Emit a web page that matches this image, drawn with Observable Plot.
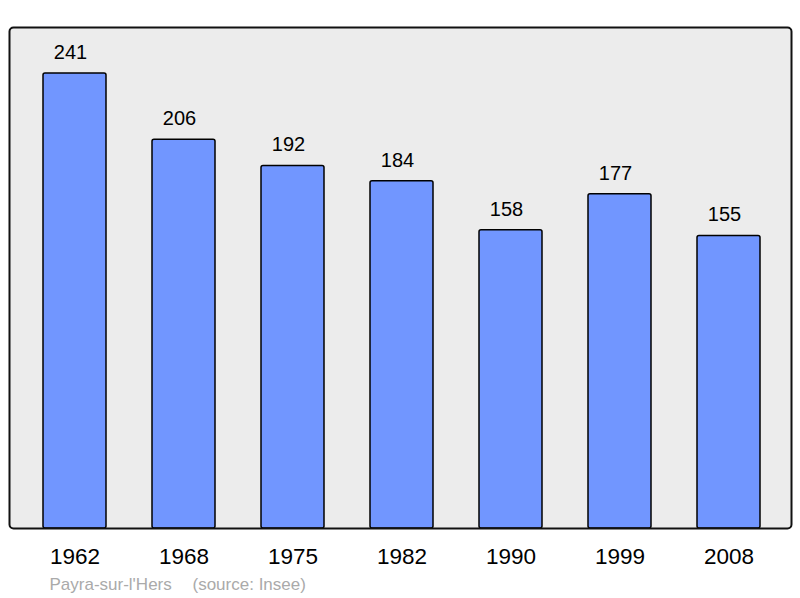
<!DOCTYPE html>
<html>
<head>
<meta charset="utf-8">
<script src="https://cdn.jsdelivr.net/npm/d3@7"></script>
<script src="https://cdn.jsdelivr.net/npm/@observablehq/plot@0.6"></script>
<style>
  html, body { margin: 0; padding: 0; background: #fff; }
  svg { display: block; font-family: "Liberation Sans", Arial, sans-serif; }
</style>
</head>
<body>
<div id="chart"></div>
<script>
const years = ["1962", "1968", "1975", "1982", "1990", "1999", "2008"];
const population = [241, 206, 192, 184, 158, 177, 155];
const place = "Payra-sur-l'Hers";
const source = "(source: Insee)";

const data = years.map((y, i) => ({year: y, value: population[i]}));

const chart = Plot.plot({
  width: 800,
  height: 598,
  marginLeft: 9,
  marginRight: 9,
  marginTop: 27,
  marginBottom: 70,
  style: {fontFamily: "Liberation Sans, Arial, sans-serif", background: "#fff"},
  x: {domain: years, range: [18.4, 785.2], paddingInner: 0.42, paddingOuter: 0.21, label: null},
  y: {domain: [0, 265.4], axis: null},
  marks: [
    Plot.frame({fill: "#ececec", stroke: "none", rx: 4}),
    Plot.barY(data, {x: "year", y: "value", fill: "#7196ff", stroke: "#000", strokeWidth: 1.5, rx: 2}),
    Plot.text(data, {x: "year", y: "value", text: d => String(d.value), dy: -21, dx: -4.5, fontSize: 20, fill: "#000"}),
    Plot.frame({stroke: "#111", strokeWidth: 2, rx: 4}),
    Plot.axisX({tickSize: 0, tickPadding: 20, fontSize: 22.5, color: "#000"}),
    Plot.text([place], {frameAnchor: "bottom-left", dx: 40, dy: 61, fontSize: 17, fill: "#aaaaaa", textAnchor: "start"}),
    Plot.text([source], {frameAnchor: "bottom-left", dx: 183, dy: 61, fontSize: 17, fill: "#aaaaaa", textAnchor: "start"})
  ]
});
document.getElementById("chart").appendChild(chart);
</script>
</body>
</html>
